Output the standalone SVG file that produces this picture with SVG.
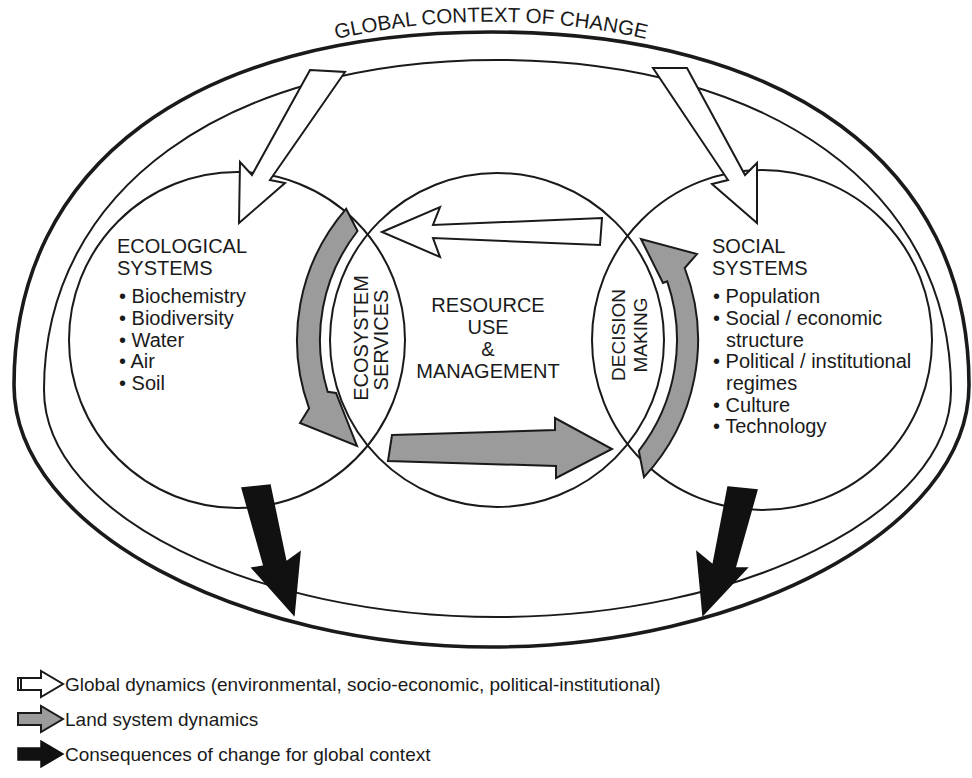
<svg xmlns="http://www.w3.org/2000/svg" width="972" height="778" viewBox="0 0 972 778">
<defs>
<style>
.t{font-family:"Liberation Sans",Arial,sans-serif;font-size:20px;fill:#1a1a1a}
.lg{font-family:"Liberation Sans",Arial,sans-serif;font-size:19px;fill:#1a1a1a}
.ln{fill:none;stroke:#1a1a1a;stroke-width:2}
.thick{fill:none;stroke:#1a1a1a;stroke-width:3.6}
.wa{fill:#fff;stroke:#1a1a1a;stroke-width:2;stroke-linejoin:miter}
.ga{fill:#9b9b9b;stroke:#1a1a1a;stroke-width:2;stroke-linejoin:miter}
.ba{fill:#111;stroke:#111;stroke-width:1.5;stroke-linejoin:miter}
</style>
<path id="titleArc" d="M 180,99 A 476 318 0 0 1 802,99"/>
</defs>
<rect width="972" height="778" fill="#fff"/>

<g id="global-context">
<path class="thick" d="M 491,32 C 787,32 969,165 969,385 C 969,530 740,647 491,647 C 242,647 14,530 14,385 C 14,165 195,32 491,32 Z"/>
<path class="ln" d="M 497,60 C 769,60 951,190 951,390 C 951,515 740,617 497,617 C 254,617 44,515 44,390 C 44,190 225,60 497,60 Z"/>
<text class="t" style="font-size:20.5px"><textPath href="#titleArc" startOffset="50%" text-anchor="middle">GLOBAL CONTEXT OF CHANGE</textPath></text>
</g>

<g id="ecological-systems">
<circle class="ln" cx="237" cy="340" r="168"/>
<text class="t" x="117" y="253">ECOLOGICAL</text>
<text class="t" x="117" y="275">SYSTEMS</text>
<text class="t" x="119" y="303">• Biochemistry</text>
<text class="t" x="119" y="325">• Biodiversity</text>
<text class="t" x="119" y="347">• Water</text>
<text class="t" x="119" y="368">• Air</text>
<text class="t" x="119" y="390">• Soil</text>
</g>

<g id="resource-use">
<circle class="ln" cx="497" cy="340" r="167"/>
<text class="t" x="488" y="312" text-anchor="middle">RESOURCE</text>
<text class="t" x="488" y="334" text-anchor="middle">USE</text>
<text class="t" x="488" y="356" text-anchor="middle">&amp;</text>
<text class="t" x="488" y="378" text-anchor="middle">MANAGEMENT</text>
</g>

<g id="social-systems">
<circle class="ln" cx="762" cy="340" r="170"/>
<text class="t" x="712" y="253">SOCIAL</text>
<text class="t" x="712" y="275">SYSTEMS</text>
<text class="t" x="713" y="303">• Population</text>
<text class="t" x="713" y="325">• Social / economic</text>
<text class="t" x="726" y="347">structure</text>
<text class="t" x="713" y="368">• Political / institutional</text>
<text class="t" x="726" y="390">regimes</text>
<text class="t" x="713" y="412">• Culture</text>
<text class="t" x="713" y="433">• Technology</text>
</g>

<g id="ecosystem-services">
<text class="t" transform="translate(368,338) rotate(-90)" text-anchor="middle">ECOSYSTEM</text>
<text class="t" transform="translate(388,340) rotate(-90)" text-anchor="middle">SERVICES</text>
</g>

<g id="decision-making">
<text class="t" style="font-size:19px" transform="translate(625,335) rotate(-90)" text-anchor="middle">DECISION</text>
<text class="t" style="font-size:19px" transform="translate(647,335) rotate(-90)" text-anchor="middle">MAKING</text>
</g>

<g id="connectors">
<polygon class="wa" points="310,70 345,72 270,180 285,183 239,223 240,162 252,175"/>
<polygon class="wa" points="653,68 687,68 745,175 757,163 757,223 712,184 728,180"/>
<polygon class="wa" points="382,232 440,207 433,225 602,218 600,245 433,238 440,257"/>
<path class="ga" d="M 346.1,208.8 A 200 200 0 0 0 309.1,408.4 L 300,423 L 357,446 L 336,393 L 327.7,391.8 A 177 177 0 0 1 357.5,231 Z"/>
<path class="ga" d="M 644,477.1 A 201 201 0 0 0 684.7,268 L 697,254 L 641,239 L 663,283 L 667.2,281.4 A 180 180 0 0 1 638.8,450.8 Z"/>
<polygon class="ga" points="392,435 555,430 555,418 612,449 556,478 556,466 388,461"/>
<polygon class="ba" points="242,488 270,485 286,562 300,552 294,615 252,568 264,566"/>
<polygon class="ba" points="728,487 757,490 735,568 747,568 703,615 697,552 713,565"/>
</g>

<g id="legend">
<polygon class="wa" points="18,678 41,678 41,671 63,684 41,697 41,690 18,690"/>
<line class="ln" x1="21" y1="678" x2="21" y2="690"/>
<text class="lg" x="65" y="691">Global dynamics (environmental, socio-economic, political-institutional)</text>
<polygon class="ga" points="18,713 41,713 41,706 63,719 41,732 41,725 18,725"/>
<text class="lg" x="65" y="726">Land system dynamics</text>
<polygon class="ba" points="18,748 41,748 41,741 63,754 41,767 41,760 18,760"/>
<text class="lg" x="65" y="761">Consequences of change for global context</text>
</g>
</svg>
